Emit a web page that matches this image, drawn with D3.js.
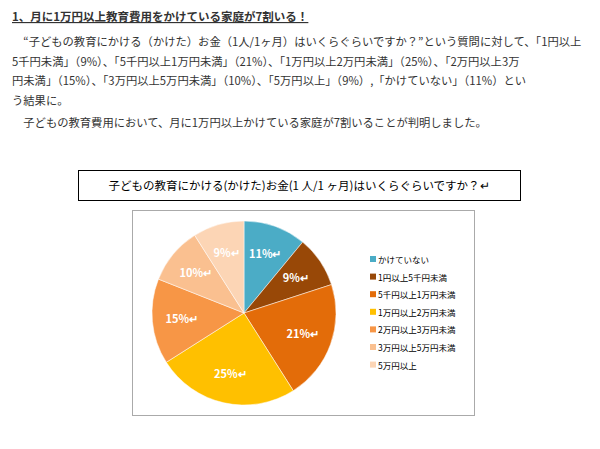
<!DOCTYPE html>
<html><head><meta charset="utf-8">
<script src="https://cdn.jsdelivr.net/npm/d3@7"></script>
<style>body{margin:0;background:#fff}</style>
</head><body>
<svg id="viz" width="600" height="449"></svg>
<script>
const categories = ["かけていない","1円以上5千円未満","5千円以上1万円未満","1万円以上2万円未満","2万円以上3万円未満","3万円以上5万円未満","5万円以上"];
const shares = [11, 9, 21, 25, 15, 10, 9];
const colors = ["#4bacc6","#984807","#e36c09","#ffc000","#f79646","#fac090","#fcd5b5"];
const bodyLines = [
  "　“子どもの教育にかける（かけた）お金（1人/1ヶ月）はいくらぐらいですか？”という質問に対して、「1円以上",
  "5千円未満」（9%）、「5千円以上1万円未満」（21%）、「1万円以上2万円未満」（25%）、「2万円以上3万",
  "円未満」（15%）、「3万円以上5万円未満」（10%）、「5万円以上」（9%）,「かけていない」（11%）とい",
  "う結果に。"
];

const viz = d3.select("#viz");
const font = "'Noto Sans CJK JP', sans-serif";

viz.append("text").attr("x", 12).attr("y", 21).attr("font-family", font)
  .attr("font-size", 11.5).attr("font-weight", "bold").attr("fill", "#333")
  .attr("text-decoration", "underline")
  .text("1、月に1万円以上教育費用をかけている家庭が7割いる！");

viz.selectAll("text.body").data(bodyLines).join("text").attr("class", "body")
  .attr("x", 12).attr("y", (d, i) => 46 + i * 19.7)
  .attr("font-family", font).attr("font-size", 11.3).attr("fill", "#333").text(d => d);
viz.append("text").attr("x", 12).attr("y", 127).attr("font-family", font)
  .attr("font-size", 11.3).attr("fill", "#333")
  .text("　子どもの教育費用において、月に1万円以上かけている家庭が7割いることが判明しました。");

// title box
viz.append("rect").attr("x", 78.5).attr("y", 170.5).attr("width", 442).attr("height", 30)
  .attr("fill", "#fff").attr("stroke", "#000");
viz.append("text").attr("x", 299).attr("y", 190).attr("text-anchor", "middle")
  .attr("font-family", font).attr("font-size", 11.5).attr("fill", "#000")
  .text("子どもの教育にかける(かけた)お金(1 人/1 ヶ月)はいくらぐらいですか？↵");

// chart frame
viz.append("rect").attr("x", 132.5).attr("y", 210.5).attr("width", 342).attr("height", 205)
  .attr("fill", "#fff").attr("stroke", "#aaa");

const cx = 244, cy = 313, r = 92;
const pie = d3.pie().sort(null).value(d => d)(shares);
const arc = d3.arc().innerRadius(0).outerRadius(r);
const labelArc = d3.arc().innerRadius(r * 0.68).outerRadius(r * 0.68);
const g = viz.append("g").attr("transform", `translate(${cx},${cy})`);
g.selectAll("path").data(pie).join("path").attr("d", arc)
  .attr("fill", (d, i) => colors[i]).attr("stroke", "#fff").attr("stroke-width", 0.5);
g.selectAll("text").data(pie).join("text")
  .attr("transform", d => `translate(${labelArc.centroid(d)})`)
  .attr("text-anchor", "middle").attr("dy", "0.35em")
  .attr("font-family", font).attr("font-size", 11).attr("font-weight", "bold")
  .attr("fill", "#fff").text(d => d.data + "%↵");

const leg = viz.append("g").attr("transform", "translate(370,260)");
const items = leg.selectAll("g").data(categories).join("g")
  .attr("transform", (d, i) => `translate(0,${i * 17.6})`);
items.append("rect").attr("x", 0).attr("y", -4).attr("width", 6).attr("height", 6)
  .attr("fill", (d, i) => colors[i]);
items.append("text").attr("x", 8).attr("y", 3).attr("font-family", font)
  .attr("font-size", 8.5).attr("fill", "#000").text(d => d);
</script>
</body></html>
